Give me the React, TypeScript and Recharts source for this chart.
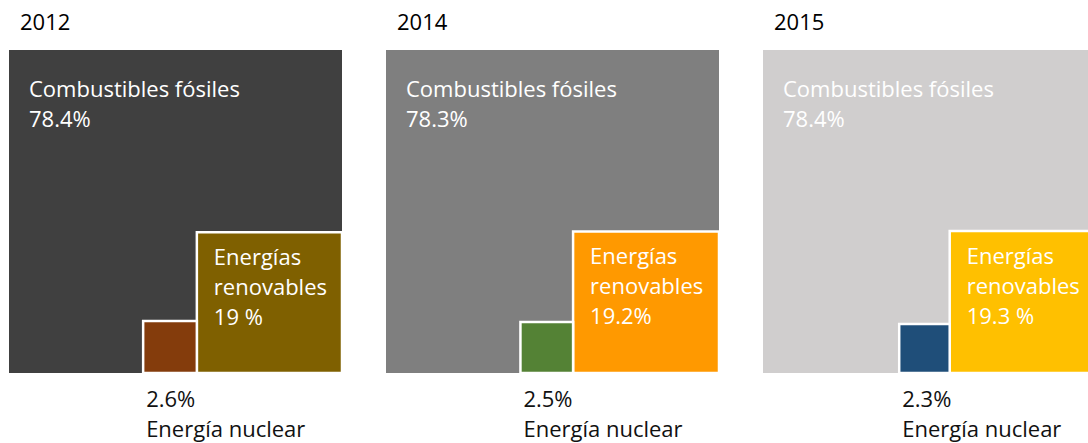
import React from 'react';
import { ComposedChart, XAxis, YAxis, ReferenceArea } from 'recharts';

// shares of primary energy (%) per year
const years = ['2012', '2014', '2015'];
const fossil = [78.4, 78.3, 78.4];
const renewable = [19, 19.2, 19.3];
const nuclear = [2.6, 2.5, 2.3];
const fossilLabels = ['78.4%', '78.3%', '78.4%'];
const renewableLabels = ['19 %', '19.2%', '19.3 %'];
const nuclearLabels = ['2.6%', '2.5%', '2.3%'];

const fossilColors = ['#404040', '#7f7f7f', '#d0cece'];
const renewableColors = ['#7f6000', '#ff9900', '#ffc000'];
const nuclearColors = ['#843c0c', '#548235', '#1f4e79'];

const FONT = '"Open Sans", sans-serif';
const PANEL_W = 377;
const PANEL_H = 443;

const Panel = ({ i }) => {
  const total = fossil[i] + renewable[i] + nuclear[i];
  const side = Math.sqrt(total);
  const sR = Math.sqrt(renewable[i]);
  const sN = Math.sqrt(nuclear[i]);

  const fossilLabel = (props) => {
    const { x, y } = props.viewBox;
    return (
      <g>
        <text x={x + 11} y={y - 20} fill="#000" fontSize={22} fontFamily={FONT}>{years[i]}</text>
        <text x={x + 20} y={y + 47} fill="#fff" fontSize={22} fontFamily={FONT}>Combustibles fósiles</text>
        <text x={x + 20} y={y + 77} fill="#fff" fontSize={22} fontFamily={FONT}>{fossilLabels[i]}</text>
      </g>
    );
  };

  const renewLabel = (props) => {
    const { x, y } = props.viewBox;
    return (
      <g fill="#fff" fontSize={22} fontFamily={FONT}>
        <text x={x + 17} y={y + 33}>Energías</text>
        <text x={x + 17} y={y + 63}>renovables</text>
        <text x={x + 17} y={y + 93}>{renewableLabels[i]}</text>
      </g>
    );
  };

  const nuclearLabel = (props) => {
    const { x, y, height } = props.viewBox;
    return (
      <g fill="#111" fontSize={22} fontFamily={FONT}>
        <text x={x + 3} y={y + height + 34}>{nuclearLabels[i]}</text>
        <text x={x + 3} y={y + height + 64}>Energía nuclear</text>
      </g>
    );
  };

  return (
    <ComposedChart
      width={PANEL_W}
      height={PANEL_H}
      data={[{ x: 0, y: 0 }, { x: side, y: side }]}
      margin={{ top: 50, right: 44, bottom: 70, left: 0 }}
    >
      <XAxis type="number" dataKey="x" domain={[0, side]} hide />
      <YAxis type="number" dataKey="y" domain={[0, side]} hide />
      <ReferenceArea x1={0} x2={side} y1={0} y2={side} fill={fossilColors[i]} fillOpacity={1} stroke="none" label={fossilLabel} />
      <ReferenceArea x1={side - sR} x2={side} y1={0} y2={sR} fill={renewableColors[i]} fillOpacity={1} stroke="#fff" strokeWidth={2.5} label={renewLabel} />
      <ReferenceArea x1={side - sR - sN} x2={side - sR} y1={0} y2={sN} fill={nuclearColors[i]} fillOpacity={1} stroke="#fff" strokeWidth={2.5} label={nuclearLabel} />
    </ComposedChart>
  );
};

export default function App() {
  return (
    <div style={{ position: 'absolute', left: 0, top: 0, width: 1088, height: 443, overflow: 'hidden', background: '#fff' }}>
      {years.map((y, i) => (
        <div key={y} style={{ position: 'absolute', left: 9 + i * PANEL_W, top: 0 }}>
          <Panel i={i} />
        </div>
      ))}
    </div>
  );
}
